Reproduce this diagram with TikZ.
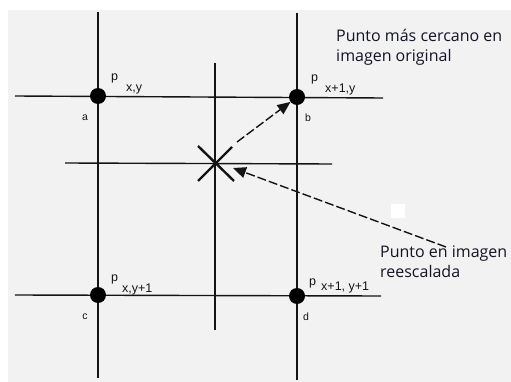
\documentclass[tikz,border=0pt]{standalone}
\usepackage{fontspec}
\setmainfont{Open Sans}
\newfontfamily\arialf{Liberation Sans}
\usetikzlibrary{arrows.meta}
\definecolor{bgc}{RGB}{242,242,242}
\definecolor{inkc}{RGB}{20,20,20}
\definecolor{txtc}{RGB}{20,20,40}
\tikzset{
  gridline/.style={draw=inkc, line width=1.4pt},
  dot/.style={circle, fill=black, inner sep=0pt, minimum size=16pt},
  lbl/.style={font=\arialf\fontsize{10.5}{11}\selectfont, text=inkc, inner sep=0pt},
  plbl/.style={font=\arialf\fontsize{12.5}{13}\selectfont, text=inkc, inner sep=0pt, anchor=base west},
  note/.style={font=\fontsize{16}{20}\selectfont, text=txtc, align=left, anchor=north west, inner sep=0pt},
  ptr/.style={draw=inkc, line width=1.4pt, dashed, dash pattern=on 9pt off 3pt, -{Triangle[length=13pt,width=11pt]}},
  xmark/.style={draw=inkc, line width=2.4pt}
}
\begin{document}
\begin{tikzpicture}[x=1pt,y=-1pt]
\useasboundingbox (0,0) rectangle (511,382);
\fill[white] (0,0) rectangle (511,382);
\fill[bgc] (8,10) rectangle (511,382);
\fill[white] (391,204) rectangle (405,218);
% grid lines
\draw[gridline] (98,12) -- (98,378);
\draw[gridline] (297,13) -- (297,380);
\draw[gridline] (215,63) -- (215,330);
\draw[gridline] (15,96) -- (383,98);
\draw[gridline] (15,295) -- (381,296);
\draw[gridline] (65,163) -- (332,164);
% dots
\node[dot] (a) at (98,96) {};
\node[dot] (b) at (297,97) {};
\node[dot] (c) at (98,295) {};
\node[dot] (d) at (297,296) {};
% X mark
\coordinate (x) at (215,163);
\draw[xmark] (198,146) -- (234,181);
\draw[xmark] (198,181) -- (232,147);
% labels
\node[lbl] at (85,118) {a};
\node[lbl] at (308,118) {b};
\node[lbl] at (85,317) {c};
\node[lbl] at (306,317) {d};
\node[plbl] at (111,81) {p};
\node[plbl] at (126,92) {x,y};
\node[plbl] at (311,82) {p};
\node[plbl] at (325,93) {x+1,y};
\node[plbl] at (111,281) {p};
\node[plbl] at (122,292) {x,y+1};
\node[plbl] at (309,285) {p};
\node[plbl] at (321,290) {x+1, y+1};
% notes
\node[note] (n1) at (336,29) {Punto más cercano en\\imagen original};
\node[note] (n2) at (380,246) {Punto en imagen\\reescalada};
% arrows
\coordinate (s1) at (237,142);
\coordinate (s2) at (446,247);
\coordinate (t2) at (233,168);
\draw[ptr] (s1) -- (b);
\draw[ptr] (s2) -- (t2);
\end{tikzpicture}
\end{document}
